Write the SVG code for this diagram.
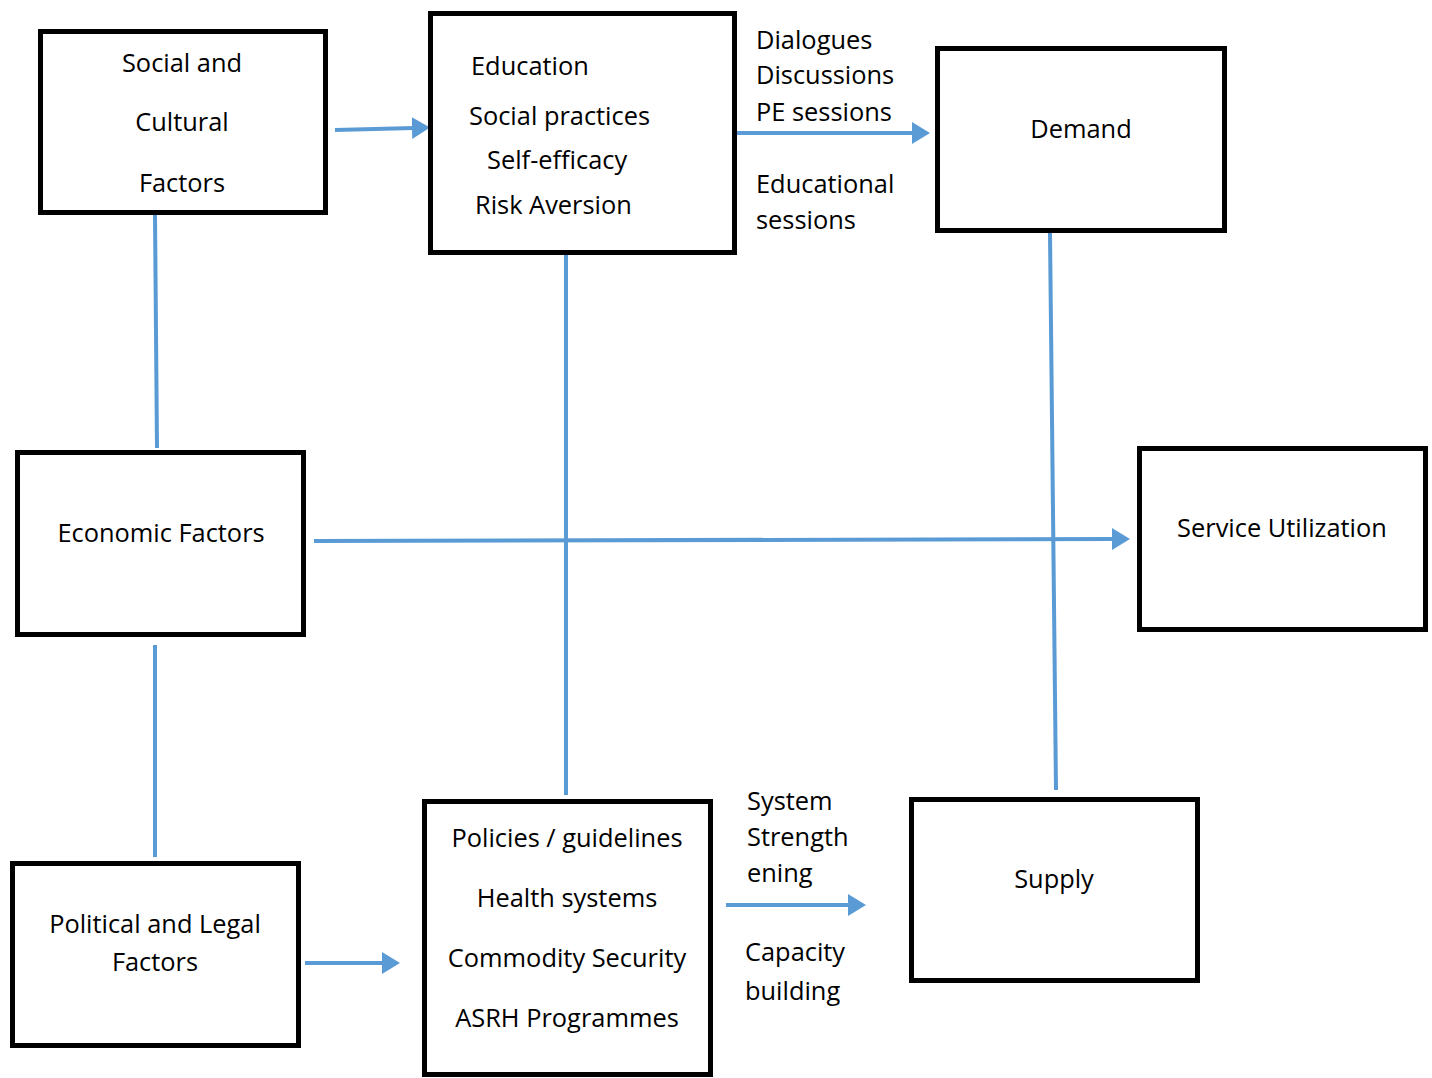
<svg xmlns="http://www.w3.org/2000/svg" width="1432" height="1078" viewBox="0 0 1432 1078">
<style>
.box{fill:#fff;stroke:#000;stroke-width:5}
.t{font-family:"Open Sans","Noto Sans",sans-serif;font-size:25.4px;fill:#000}
.c{text-anchor:middle}
.ln{stroke:#5B9BD5;stroke-width:4;fill:none}
</style>
<defs>
<marker id="ah" markerUnits="userSpaceOnUse" markerWidth="20" markerHeight="24" refX="2" refY="12" orient="auto">
<polygon points="0,1 18,12 0,23" fill="#5B9BD5"/>
</marker>
</defs>
<rect width="1432" height="1078" fill="#fff"/>
<g id="connectors">
<line class="ln" x1="335" y1="130" x2="414" y2="128" marker-end="url(#ah)"/>
<line class="ln" x1="155" y1="215" x2="157" y2="448"/>
<line class="ln" x1="155" y1="645" x2="155" y2="857"/>
<line class="ln" x1="566" y1="253" x2="566" y2="795"/>
<line class="ln" x1="1050" y1="233" x2="1056" y2="790"/>
<line class="ln" x1="314" y1="541" x2="1114" y2="539" marker-end="url(#ah)"/>
<line class="ln" x1="735" y1="133" x2="914" y2="133" marker-end="url(#ah)"/>
<line class="ln" x1="305" y1="963" x2="384" y2="963" marker-end="url(#ah)"/>
<line class="ln" x1="726" y1="905" x2="850" y2="905" marker-end="url(#ah)"/>
</g>
<g id="n-social">
<rect class="box" x="40.5" y="31.5" width="285" height="181"/>
<text class="t c" x="182" y="72">Social and</text>
<text class="t c" x="182" y="131">Cultural</text>
<text class="t c" x="182" y="192">Factors</text>
</g>
<g id="n-education">
<rect class="box" x="430.5" y="13.5" width="304" height="239"/>
<text class="t" x="471" y="75">Education</text>
<text class="t" x="469" y="125">Social practices</text>
<text class="t" x="487" y="169">Self-efficacy</text>
<text class="t" x="475" y="214">Risk Aversion</text>
</g>
<g id="l-demand-labels">
<text class="t" x="756" y="49">Dialogues</text>
<text class="t" x="756" y="84">Discussions</text>
<text class="t" x="756" y="121">PE sessions</text>
<text class="t" x="756" y="193">Educational</text>
<text class="t" x="756" y="229">sessions</text>
</g>
<g id="n-demand">
<rect class="box" x="937.5" y="48.5" width="287" height="182"/>
<text class="t c" x="1081" y="138">Demand</text>
</g>
<g id="n-economic">
<rect class="box" x="17.5" y="452.5" width="286" height="182"/>
<text class="t c" x="161" y="542">Economic Factors</text>
</g>
<g id="n-service">
<rect class="box" x="1139.5" y="448.5" width="286" height="181"/>
<text class="t c" x="1282" y="537">Service Utilization</text>
</g>
<g id="n-political">
<rect class="box" x="12.5" y="863.5" width="286" height="182"/>
<text class="t c" x="155" y="933">Political and Legal</text>
<text class="t c" x="155" y="971">Factors</text>
</g>
<g id="n-policies">
<rect class="box" x="424.5" y="801.5" width="286" height="273"/>
<text class="t c" x="567" y="847">Policies / guidelines</text>
<text class="t c" x="567" y="907">Health systems</text>
<text class="t c" x="567" y="967">Commodity Security</text>
<text class="t c" x="567" y="1027">ASRH Programmes</text>
</g>
<g id="l-supply-labels">
<text class="t" x="747" y="810">System</text>
<text class="t" x="747" y="846">Strength</text>
<text class="t" x="747" y="882">ening</text>
<text class="t" x="745" y="961">Capacity</text>
<text class="t" x="745" y="1000">building</text>
</g>
<g id="n-supply">
<rect class="box" x="911.5" y="799.5" width="286" height="181"/>
<text class="t c" x="1054" y="888">Supply</text>
</g>
</svg>
